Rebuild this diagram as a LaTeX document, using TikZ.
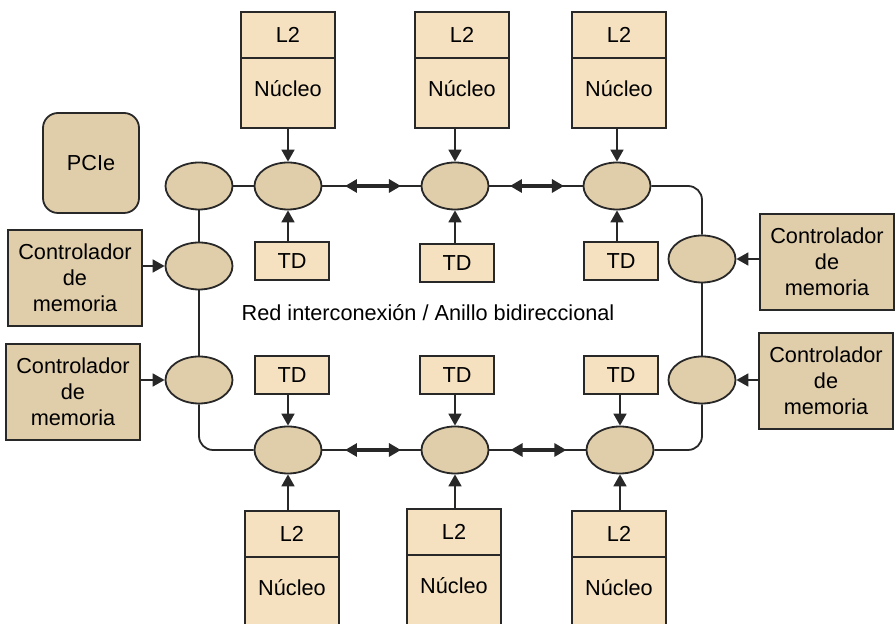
\documentclass[tikz,border=0pt]{standalone}
\usepackage{fontspec}
\setmainfont{Liberation Sans}
\usetikzlibrary{shapes.geometric,arrows.meta,calc}
\definecolor{claro}{RGB}{245,225,192}
\definecolor{oscuro}{RGB}{224,205,170}
\definecolor{borde}{RGB}{40,40,40}

\begin{document}
\begin{tikzpicture}[x=0.5pt,y=-0.5pt,
        font=\fontsize{10.85}{13}\selectfont,
        nodo/.style={ellipse,draw=borde,fill=oscuro,line width=0.9pt,minimum width=33.5pt,minimum height=23.5pt,inner sep=0pt},
        caja/.style={rectangle,draw=borde,fill=claro,line width=0.9pt,minimum width=47pt,inner sep=0pt,outer sep=0pt},
        td/.style={rectangle,draw=borde,fill=claro,line width=0.9pt,minimum width=37pt,minimum height=19pt,inner sep=0pt},
        ctrl/.style={rectangle,draw=borde,fill=oscuro,line width=0.9pt,minimum width=67pt,minimum height=48pt,inner sep=0pt,align=center},
        anillo/.style={draw=borde,line width=0.9pt,rounded corners=7pt},
        flecha/.style={draw=borde,line width=0.9pt,-{Triangle[length=6pt,width=6.5pt]}},
        doble/.style={draw=borde,line width=1.8pt,{Triangle[length=6pt,width=6.5pt]}-{Triangle[length=6pt,width=6.5pt]}}]
        \useasboundingbox (0,0) rectangle (895,624);
        \clip (0,0) rectangle (895,624);

        % nodos del anillo
        \node[nodo] (lc) at (199,186) {};
        \node[nodo] (r1) at (288,186) {};
        \node[nodo] (r2) at (455,186) {};
        \node[nodo] (r3) at (617,186) {};
        \node[nodo] (rm1) at (702,259) {};
        \node[nodo] (rm2) at (702,380) {};
        \node[nodo] (b3) at (620,450) {};
        \node[nodo] (b2) at (455,450) {};
        \node[nodo] (b1) at (288,450) {};
        \node[nodo] (lm2) at (199,380) {};
        \node[nodo] (lm1) at (199,266) {};

        % nucleos
        \node[caja,minimum height=23pt] (l2a) at (288,35) {L2};
        \node[caja,minimum height=35pt,text depth=4pt,anchor=north] (na) at (l2a.south) {Núcleo};
        \node[caja,minimum height=23pt] (l2b) at (462,35) {L2};
        \node[caja,minimum height=35pt,text depth=4pt,anchor=north] (nb) at (l2b.south) {Núcleo};
        \node[caja,minimum height=23pt] (l2c) at (619,35) {L2};
        \node[caja,minimum height=35pt,text depth=4pt,anchor=north] (nc) at (l2c.south) {Núcleo};
        \node[caja,minimum height=23pt] (l2d) at (292,534) {L2};
        \node[caja,minimum height=35pt,text depth=4pt,anchor=north] (nd) at (l2d.south) {Núcleo};
        \node[caja,minimum height=23pt] (l2e) at (454,532) {L2};
        \node[caja,minimum height=35pt,text depth=4pt,anchor=north] (ne) at (l2e.south) {Núcleo};
        \node[caja,minimum height=23pt] (l2f) at (619,534) {L2};
        \node[caja,minimum height=35pt,text depth=4pt,anchor=north] (nf) at (l2f.south) {Núcleo};

        % TD
        \node[td] (tda) at (292,261) {TD};
        \node[td] (tdb) at (457,263) {TD};
        \node[td] (tdc) at (621,261) {TD};
        \node[td] (tdd) at (292,375) {TD};
        \node[td] (tde) at (457,375) {TD};
        \node[td] (tdf) at (621,375) {TD};

        % controladores y PCIe
        \node[ctrl] (mc1) at (75,278) {Controlador\\de\\memoria};
        \node[ctrl] (mc2) at (73,392) {Controlador\\de\\memoria};
        \node[ctrl] (mc3) at (827,262) {Controlador\\de\\memoria};
        \node[ctrl] (mc4) at (826,381) {Controlador\\de\\memoria};
        \node[ctrl,minimum width=48pt,minimum height=50pt,rounded corners=7.5pt] (pcie) at (91,163) {PCIe};

        \node (red) at (428,313) {Red interconexión / Anillo bidireccional};

        % anillo
        \draw[anillo] (lc) -- (r1);
        \draw[anillo] (r1) -- (r2);
        \draw[anillo] (r2) -- (r3);
        \draw[anillo] (r3.east) -| (rm1.north);
        \draw[anillo] (rm1) -- (rm2);
        \draw[anillo] (rm2.south) |- (b3.east);
        \draw[anillo] (b3) -- (b2);
        \draw[anillo] (b2) -- (b1);
        \draw[anillo] (b1.west) -| (lm2.south);
        \draw[anillo] (lm2) -- (lm1);
        \draw[anillo] (lm1) -- (lc);

        \draw[doble] ($(r1.east)!0.23!(r2.west)$) -- ($(r1.east)!0.8!(r2.west)$);
        \draw[doble] ($(r2.east)!0.22!(r3.west)$) -- ($(r2.east)!0.8!(r3.west)$);
        \draw[doble] ($(b1.east)!0.23!(b2.west)$) -- ($(b1.east)!0.8!(b2.west)$);
        \draw[doble] ($(b2.east)!0.22!(b3.west)$) -- ($(b2.east)!0.8!(b3.west)$);

        % flechas
        \draw[flecha] (r1 |- na.south) -- (r1);
        \draw[flecha] (r2 |- nb.south) -- (r2);
        \draw[flecha] (r3 |- nc.south) -- (r3);
        \draw[flecha] (r1 |- tda.north) -- (r1);
        \draw[flecha] (r2 |- tdb.north) -- (r2);
        \draw[flecha] (r3 |- tdc.north) -- (r3);
        \draw[flecha] (b1 |- tdd.south) -- (b1);
        \draw[flecha] (b2 |- tde.south) -- (b2);
        \draw[flecha] (b3 |- tdf.south) -- (b3);
        \draw[flecha] (b1 |- l2d.north) -- (b1);
        \draw[flecha] (b2 |- l2e.north) -- (b2);
        \draw[flecha] (b3 |- l2f.north) -- (b3);
        \draw[flecha] (mc1.east |- lm1) -- (lm1);
        \draw[flecha] (mc2.east |- lm2) -- (lm2);
        \draw[flecha] (mc3.west |- rm1) -- (rm1);
        \draw[flecha] (mc4.west |- rm2) -- (rm2);
\end{tikzpicture}
\end{document}
